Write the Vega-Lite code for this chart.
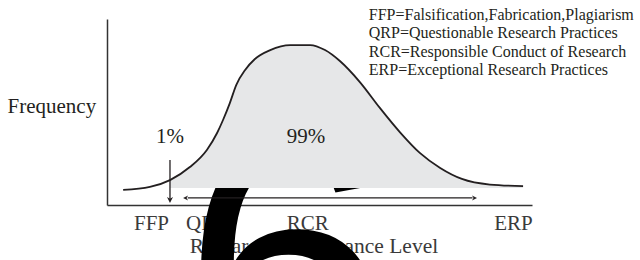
{
  "$schema": "https://vega.github.io/schema/vega-lite/v6.json",
  "autosize": "none",
  "width": 425,
  "height": 186,
  "padding": {"left": 107, "top": 19, "right": 108, "bottom": 55},
  "background": "white",
  "config": {
    "view": {"stroke": null},
    "axis": {
      "domainColor": "#333333",
      "domainWidth": 1.5,
      "ticks": false,
      "grid": false,
      "labelFont": "Liberation Serif",
      "labelFontSize": 21,
      "labelColor": "#3a3a3a",
      "titleFont": "Liberation Serif",
      "titleFontSize": 21.5,
      "titleFontWeight": "normal",
      "titleColor": "#3a3a3a",
      "zindex": 1
    }
  },
  "datasets": {
    "curve": [
      {"level": 3.8, "frequency": 0.081},
      {"level": 10.1, "frequency": 0.097},
      {"level": 14.82, "frequency": 0.134},
      {"level": 19.5, "frequency": 0.204},
      {"level": 23.5, "frequency": 0.296},
      {"level": 25.9, "frequency": 0.387},
      {"level": 27.3, "frequency": 0.457},
      {"level": 28.9, "frequency": 0.548},
      {"level": 30.4, "frequency": 0.645},
      {"level": 32.5, "frequency": 0.726},
      {"level": 34.8, "frequency": 0.785},
      {"level": 38.4, "frequency": 0.833},
      {"level": 43.1, "frequency": 0.86},
      {"level": 47.8, "frequency": 0.86},
      {"level": 51.3, "frequency": 0.833},
      {"level": 54.8, "frequency": 0.774},
      {"level": 59.5, "frequency": 0.661},
      {"level": 64.2, "frequency": 0.522},
      {"level": 68.9, "frequency": 0.392},
      {"level": 73.6, "frequency": 0.28},
      {"level": 78.4, "frequency": 0.199},
      {"level": 83.5, "frequency": 0.14},
      {"level": 90.1, "frequency": 0.11},
      {"level": 97.9, "frequency": 0.102}
    ],
    "one": [{}]
  },
  "layer": [
    {
      "data": {"name": "one"},
      "mark": {"type": "text", "text": "6", "font": "Liberation Sans", "fontSize": 375, "color": "#000000", "align": "left", "baseline": "alphabetic"},
      "encoding": {
        "x": {"datum": 17.65, "type": "quantitative", "scale": {"domain": [0, 100], "nice": false, "zero": false},
          "axis": {
            "values": [10.35, 23.3, 47.1, 95.5],
            "labelExpr": "datum.value < 15 ? 'FFP' : datum.value < 30 ? 'QRP' : datum.value < 60 ? 'RCR' : 'ERP'",
            "labelBaseline": "alphabetic",
            "labelPadding": 24,
            "labelFlush": false,
            "labelOverlap": false,
            "labelBound": false,
            "title": "Research Performance Level",
            "titleBaseline": "alphabetic",
            "titleAlign": "center",
            "titleAnchor": null,
            "titleX": 206.5,
            "titleY": 47
          }},
        "y": {"datum": -1.027, "type": "quantitative", "scale": {"domain": [0, 1], "nice": false, "zero": false},
          "axis": {
            "labels": false,
            "title": "Frequency",
            "titleFontSize": 21,
            "titleColor": "#231f20",
            "titleAngle": 0,
            "titleAlign": "left",
            "titleBaseline": "alphabetic",
            "titleAnchor": null,
            "titleX": -100,
            "titleY": 93
          }}
      }
    },
    {
      "data": {"name": "one"},
      "mark": {"type": "rect", "color": "#ffffff"},
      "encoding": {
        "x": {"datum": 14.9, "type": "quantitative"},
        "x2": {"datum": 96},
        "y": {"datum": 0.091, "type": "quantitative"},
        "y2": {"datum": 1}
      }
    },
    {
      "data": {"name": "curve"},
      "transform": [{"filter": "datum.level >= 14.8"}],
      "mark": {"type": "area", "color": "#e6e7e8", "interpolate": "monotone"},
      "encoding": {
        "x": {"field": "level", "type": "quantitative"},
        "y": {"field": "frequency", "type": "quantitative"},
        "y2": {"datum": 0.091}
      }
    },
    {
      "data": {"name": "curve"},
      "mark": {"type": "line", "color": "#231f20", "strokeWidth": 1.8, "interpolate": "monotone"},
      "encoding": {
        "x": {"field": "level", "type": "quantitative"},
        "y": {"field": "frequency", "type": "quantitative"}
      }
    },
    {
      "data": {"name": "one"},
      "mark": {"type": "rule", "color": "#231f20", "strokeWidth": 1.3},
      "encoding": {
        "x": {"datum": 14.82, "type": "quantitative"},
        "y": {"datum": 0.242, "type": "quantitative"},
        "y2": {"datum": 0.03}
      }
    },
    {
      "data": {"name": "one"},
      "mark": {"type": "point", "shape": "M0,0L-1,-2L0,-1.4L1,-2Z", "filled": true, "color": "#231f20", "opacity": 1, "size": 36, "angle": 0},
      "encoding": {
        "x": {"datum": 14.82, "type": "quantitative"},
        "y": {"datum": 0.011, "type": "quantitative"}
      }
    },
    {
      "data": {"name": "one"},
      "mark": {"type": "rule", "color": "#231f20", "strokeWidth": 1.3},
      "encoding": {
        "x": {"datum": 19, "type": "quantitative"},
        "x2": {"datum": 86},
        "y": {"datum": 0.038, "type": "quantitative"}
      }
    },
    {
      "data": {"name": "one"},
      "mark": {"type": "point", "shape": "M0,0L-1,-2L0,-1.4L1,-2Z", "filled": true, "color": "#231f20", "opacity": 1, "size": 25, "angle": 90},
      "encoding": {
        "x": {"datum": 17.9, "type": "quantitative"},
        "y": {"datum": 0.038, "type": "quantitative"}
      }
    },
    {
      "data": {"name": "one"},
      "mark": {"type": "point", "shape": "M0,0L-1,-2L0,-1.4L1,-2Z", "filled": true, "color": "#231f20", "opacity": 1, "size": 25, "angle": -90},
      "encoding": {
        "x": {"datum": 87.06, "type": "quantitative"},
        "y": {"datum": 0.038, "type": "quantitative"}
      }
    },
    {
      "data": {"name": "one"},
      "mark": {"type": "text", "text": "1%", "font": "Liberation Serif", "fontSize": 21, "color": "#231f20", "align": "center", "baseline": "alphabetic"},
      "encoding": {
        "x": {"datum": 14.82, "type": "quantitative"},
        "y": {"datum": 0.333, "type": "quantitative"}
      }
    },
    {
      "data": {"name": "one"},
      "mark": {"type": "text", "text": "99%", "font": "Liberation Serif", "fontSize": 21, "color": "#231f20", "align": "center", "baseline": "alphabetic"},
      "encoding": {
        "x": {"datum": 46.8, "type": "quantitative"},
        "y": {"datum": 0.333, "type": "quantitative"}
      }
    },
    {
      "data": {"name": "one"},
      "mark": {"type": "text", "text": ["FFP=Falsification,Fabrication,Plagiarism", "QRP=Questionable Research Practices", "RCR=Responsible Conduct of Research", "ERP=Exceptional Research Practices"], "font": "Liberation Serif", "fontSize": 16, "lineHeight": 18.4, "color": "#231f20", "align": "left", "baseline": "alphabetic"},
      "encoding": {
        "x": {"datum": 61.6, "type": "quantitative"},
        "y": {"datum": 0.995, "type": "quantitative"}
      }
    }
  ]
}
